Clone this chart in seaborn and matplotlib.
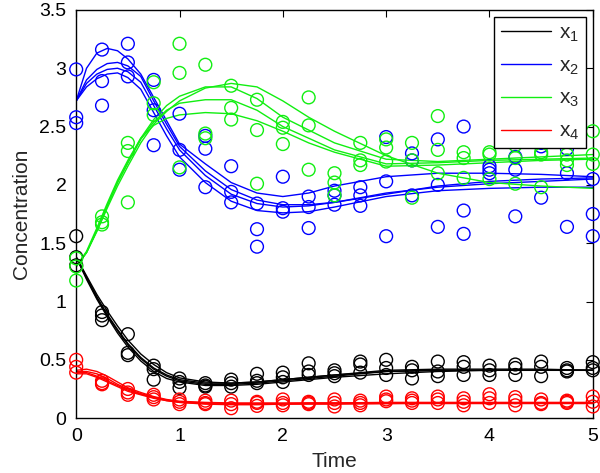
import numpy as np
import pandas as pd
import matplotlib
matplotlib.use("Agg")
import matplotlib.pyplot as plt
import seaborn as sns

sns.set_style("white")
plt.rcParams['font.family'] = ['Liberation Sans', 'DejaVu Sans']
plt.rcParams['mathtext.fontset'] = 'custom'
plt.rcParams['mathtext.rm'] = 'Liberation Sans'
plt.rcParams['mathtext.it'] = 'Liberation Sans'

# observation times and replicate measurements (3 per time point)
obs_t = [0, 0.25, 0.5, 0.75, 1, 1.25, 1.5, 1.75, 2, 2.25, 2.5,
         2.75, 3, 3.25, 3.5, 3.75, 4, 4.25, 4.5, 4.75, 5]

x1_obs = [[1.56, 1.38, 1.31], [0.91, 0.88, 0.84], [0.72, 0.56, 0.54], [0.45, 0.42, 0.33],
          [0.34, 0.31, 0.26], [0.30, 0.28, 0.27], [0.33, 0.30, 0.27], [0.38, 0.32, 0.30],
          [0.39, 0.35, 0.31], [0.47, 0.40, 0.37], [0.41, 0.385, 0.36], [0.485, 0.46, 0.39],
          [0.50, 0.43, 0.37], [0.44, 0.41, 0.34], [0.485, 0.40, 0.36], [0.48, 0.44, 0.37],
          [0.45, 0.41, 0.37], [0.46, 0.43, 0.37], [0.485, 0.44, 0.36], [0.43, 0.41, 0.40],
          [0.48, 0.43, 0.41]]
x2_obs = [[2.99, 2.58, 2.53], [3.16, 2.89, 2.68], [3.21, 3.05, 2.93], [2.90, 2.64, 2.34],
          [2.61, 2.30, 2.13], [2.42, 2.31, 1.98], [2.16, 1.94, 1.85], [1.84, 1.62, 1.47],
          [2.07, 1.80, 1.77], [1.90, 1.81, 1.63], [1.95, 1.91, 1.83], [1.98, 1.91, 1.82],
          [2.41, 2.03, 1.56], [2.27, 2.21, 1.91], [2.39, 2.00, 1.64], [2.50, 1.78, 1.58],
          [2.16, 2.13, 2.10], [2.24, 2.13, 1.73], [2.36, 2.33, 1.89], [2.31, 2.10, 1.64],
          [2.05, 1.75, 1.56]]
x3_obs = [[1.37, 1.30, 1.18], [1.73, 1.68, 1.66], [2.36, 2.29, 1.85], [2.88, 2.70, 2.60],
          [3.21, 2.96, 2.15], [3.03, 2.44, 2.40], [2.85, 2.66, 2.56], [2.73, 2.47, 2.01],
          [2.54, 2.49, 2.35], [2.75, 2.51, 2.13], [2.10, 2.02, 1.91], [2.36, 2.21, 2.17],
          [2.39, 2.32, 2.20], [2.36, 2.21, 1.89], [2.59, 2.30, 2.10], [2.28, 2.23, 2.06],
          [2.28, 2.26, 2.05], [2.34, 2.23, 2.01], [2.28, 2.26, 1.98], [2.26, 2.21, 2.17],
          [2.46, 2.26, 2.18]]
x4_obs = [[0.50, 0.44, 0.39], [0.32, 0.30, 0.29], [0.25, 0.22, 0.20], [0.20, 0.18, 0.16],
          [0.16, 0.14, 0.12], [0.15, 0.13, 0.12], [0.15, 0.12, 0.085], [0.14, 0.13, 0.105],
          [0.16, 0.13, 0.11], [0.14, 0.13, 0.12], [0.16, 0.13, 0.10], [0.15, 0.13, 0.11],
          [0.185, 0.16, 0.145], [0.17, 0.15, 0.13], [0.185, 0.16, 0.13], [0.17, 0.14, 0.11],
          [0.205, 0.17, 0.13], [0.18, 0.15, 0.11], [0.16, 0.13, 0.12], [0.15, 0.14, 0.13],
          [0.185, 0.14, 0.10]]

# fitted trajectories (4 per species), read at these times
fit_t = [0, 0.1, 0.2, 0.3, 0.4, 0.5, 0.625, 0.75, 0.875, 1.0, 1.25,
         1.5, 1.75, 2.0, 2.25, 2.5, 3.0, 3.5, 4.0, 4.5, 5.0]

x1_fit = [
    [1.38, 1.22, 1.06, 0.92, 0.79, 0.67, 0.55, 0.46, 0.39, 0.345, 0.31, 0.30, 0.31, 0.33, 0.35, 0.37, 0.41, 0.42, 0.42, 0.42, 0.41],
    [1.38, 1.21, 1.04, 0.89, 0.76, 0.64, 0.52, 0.43, 0.37, 0.33, 0.30, 0.30, 0.31, 0.33, 0.35, 0.37, 0.40, 0.41, 0.41, 0.41, 0.41],
    [1.38, 1.20, 1.03, 0.88, 0.75, 0.63, 0.51, 0.42, 0.36, 0.32, 0.29, 0.29, 0.30, 0.32, 0.34, 0.36, 0.40, 0.41, 0.41, 0.41, 0.41],
    [1.38, 1.19, 1.02, 0.87, 0.73, 0.61, 0.49, 0.40, 0.34, 0.31, 0.28, 0.28, 0.29, 0.31, 0.33, 0.35, 0.38, 0.40, 0.41, 0.41, 0.41],
]
x2_fit = [
    [2.72, 3.00, 3.13, 3.17, 3.15, 3.08, 2.95, 2.75, 2.55, 2.35, 2.18, 2.02, 1.93, 1.90, 1.93, 1.99, 2.07, 2.10, 2.10, 2.09, 2.07],
    [2.72, 2.90, 2.99, 3.04, 3.05, 3.02, 2.93, 2.72, 2.52, 2.33, 2.12, 1.96, 1.87, 1.83, 1.83, 1.85, 1.92, 1.99, 2.03, 2.05, 2.06],
    [2.72, 2.87, 2.95, 2.99, 3.00, 2.97, 2.88, 2.68, 2.48, 2.30, 2.08, 1.92, 1.84, 1.81, 1.82, 1.85, 1.93, 1.98, 2.01, 2.03, 2.05],
    [2.72, 2.84, 2.91, 2.95, 2.96, 2.92, 2.82, 2.62, 2.42, 2.24, 2.02, 1.86, 1.78, 1.76, 1.77, 1.81, 1.90, 1.95, 1.97, 1.98, 1.98],
]
x3_fit = [
    [1.30, 1.42, 1.60, 1.80, 1.99, 2.16, 2.36, 2.52, 2.63, 2.72, 2.83, 2.87, 2.84, 2.72, 2.58, 2.46, 2.25, 2.10, 2.02, 1.99, 1.97],
    [1.30, 1.42, 1.61, 1.82, 2.02, 2.19, 2.40, 2.56, 2.68, 2.76, 2.84, 2.84, 2.74, 2.58, 2.47, 2.36, 2.22, 2.20, 2.22, 2.24, 2.26],
    [1.30, 1.42, 1.61, 1.82, 2.02, 2.19, 2.39, 2.54, 2.64, 2.70, 2.73, 2.73, 2.64, 2.50, 2.40, 2.30, 2.18, 2.19, 2.21, 2.22, 2.23],
    [1.30, 1.43, 1.63, 1.84, 2.04, 2.21, 2.40, 2.51, 2.57, 2.60, 2.62, 2.61, 2.55, 2.46, 2.36, 2.28, 2.16, 2.17, 2.19, 2.21, 2.22],
]
x4_fit = [
    [0.41, 0.42, 0.40, 0.36, 0.31, 0.26, 0.22, 0.185, 0.16, 0.145, 0.135, 0.13, 0.13, 0.13, 0.13, 0.13, 0.135, 0.135, 0.135, 0.135, 0.135],
    [0.40, 0.40, 0.38, 0.34, 0.29, 0.25, 0.21, 0.18, 0.155, 0.14, 0.13, 0.125, 0.125, 0.125, 0.13, 0.13, 0.13, 0.13, 0.13, 0.13, 0.13],
    [0.39, 0.39, 0.36, 0.32, 0.28, 0.24, 0.205, 0.175, 0.15, 0.135, 0.125, 0.12, 0.12, 0.12, 0.125, 0.125, 0.125, 0.13, 0.13, 0.13, 0.13],
    [0.38, 0.38, 0.35, 0.31, 0.27, 0.23, 0.20, 0.17, 0.15, 0.135, 0.12, 0.115, 0.115, 0.12, 0.12, 0.12, 0.125, 0.125, 0.125, 0.125, 0.125],
]

labels = ['x$_1$', 'x$_2$', 'x$_3$', 'x$_4$']
colors = ['#000000', '#0000ff', '#11ee11', '#ff0000']

# long tables for seaborn
fit_rows = []
obs_rows = []
for lab, fits, obs in zip(labels, [x1_fit, x2_fit, x3_fit, x4_fit],
                          [x1_obs, x2_obs, x3_obs, x4_obs]):
    for i, curve in enumerate(fits):
        for t, v in zip(fit_t, curve):
            fit_rows.append({'t': t, 'value': v, 'species': lab, 'curve': i})
    for t, reps in zip(obs_t, obs):
        for v in reps:
            obs_rows.append({'t': t, 'value': v, 'species': lab})
fit_df = pd.DataFrame(fit_rows)
obs_df = pd.DataFrame(obs_rows)

fig, ax = plt.subplots(figsize=(6.0, 4.73), dpi=100)
fig.subplots_adjust(left=0.127, right=0.988, top=0.979, bottom=0.116)

sns.lineplot(data=fit_df, x='t', y='value', hue='species', units='curve',
             estimator=None, palette=dict(zip(labels, colors)), lw=1.0,
             sort=False, ax=ax)

for lab, c in zip(labels, colors):
    sub = obs_df[obs_df['species'] == lab]
    sns.scatterplot(data=sub, x='t', y='value', marker='o', s=85,
                    facecolors='none', edgecolor=c, linewidth=1.0,
                    legend=False, ax=ax, clip_on=False, zorder=3)

ax.set_xlim(0, 5)
ax.set_ylim(0, 3.5)
ax.set_xticks([0, 1, 2, 3, 4, 5])
ax.set_yticks([0, 0.5, 1, 1.5, 2, 2.5, 3, 3.5])
ax.set_yticklabels(['0', '0.5', '1', '1.5', '2', '2.5', '3', '3.5'])
ax.tick_params(direction='in', length=5, width=0.8, top=True, right=True,
               labelsize=14, pad=7, colors='black')
ax.set_xlabel('Time', fontsize=15, labelpad=5)
ax.set_ylabel('Concentration', fontsize=15, labelpad=6)
for sp in ax.spines.values():
    sp.set_color('black')
    sp.set_linewidth(1.0)

leg = ax.legend(loc='upper right', fontsize=15, frameon=True, fancybox=False,
                edgecolor='black', framealpha=1, borderaxespad=0.35,
                handlelength=2.4, labelspacing=0.6, borderpad=0.3,
                handletextpad=0.4, title=None)
leg.get_frame().set_linewidth(1.0)

plt.savefig('out.png', dpi=100)
plt.close()
